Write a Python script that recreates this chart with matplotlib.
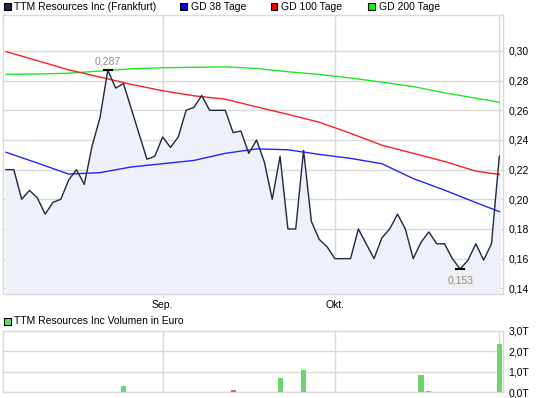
import matplotlib
matplotlib.use('Agg')
import matplotlib.pyplot as plt
from matplotlib.patches import Rectangle
import numpy as np

plt.rcParams['font.family'] = ['Liberation Sans', 'DejaVu Sans']
plt.rcParams['font.size'] = 7.5

# daily closing prices (trading days, Aug - Oct)
price = [0.220, 0.220, 0.200, 0.206, 0.201, 0.190, 0.198, 0.200, 0.213, 0.220,
         0.210, 0.236, 0.255, 0.287, 0.275, 0.278, 0.261, 0.244, 0.227, 0.229,
         0.242, 0.235, 0.242, 0.260, 0.262, 0.270, 0.260, 0.260, 0.260, 0.245,
         0.246, 0.231, 0.240, 0.225, 0.200, 0.229, 0.180, 0.180, 0.233, 0.185,
         0.173, 0.168, 0.160, 0.160, 0.160, 0.180, 0.170, 0.160, 0.174, 0.180,
         0.190, 0.180, 0.160, 0.171, 0.178, 0.170, 0.170, 0.160, 0.153, 0.159,
         0.170, 0.159, 0.170, 0.229]

# moving averages sampled at these day indices
ma_idx = [0, 4, 8, 12, 16, 20, 24, 28, 32, 36, 40, 44, 48, 52, 56, 60, 63]
gd38 = [0.2317, 0.2245, 0.2170, 0.2180, 0.2218, 0.2240, 0.2262, 0.2310, 0.2340,
        0.2334, 0.2303, 0.2276, 0.2240, 0.2140, 0.2062, 0.1978, 0.1917]
gd100 = [0.2996, 0.2935, 0.2873, 0.2824, 0.2775, 0.2732, 0.2698, 0.2675, 0.2623,
         0.2573, 0.2520, 0.2445, 0.2365, 0.2310, 0.2255, 0.2190, 0.2167]
gd200 = [0.2843, 0.2845, 0.2850, 0.2865, 0.2880, 0.2887, 0.2890, 0.2893, 0.2882,
         0.2860, 0.2842, 0.2818, 0.2790, 0.2760, 0.2718, 0.2682, 0.2655]

# volume in thousand euro
vol_idx = [15, 29, 35, 38, 53, 54, 63]
vol = [0.32, 0.10, 0.71, 1.07, 0.86, 0.05, 2.34]
vol_up = [True, False, True, True, True, True, True]

month_pos = [20, 42]
month_labels = ['Sep.', 'Okt.']
price_ticks = [0.14, 0.16, 0.18, 0.20, 0.22, 0.24, 0.26, 0.28, 0.30]
vol_ticks = [0.0, 1.0, 2.0, 3.0]

W, H = 545, 398
grid_c = '#d9d9d9'
navy = '#1f2942'


def rect(l, t, r, b):
    return [l / W, 1 - b / H, (r - l) / W, (b - t) / H]


def style_axes(ax):
    for s in ax.spines.values():
        s.set_color(grid_c)
        s.set_linewidth(1)
    ax.set_xlim(-0.383, 63.47)
    ax.yaxis.tick_right()
    ax.tick_params(axis='y', length=0, pad=4, labelsize=7.5)
    ax.tick_params(axis='x', length=2, color=grid_c, pad=3, labelsize=7.5)
    ax.set_xticks(month_pos)
    ax.grid(True, color=grid_c, linewidth=1)
    ax.axvline(len(price) - 1, color=grid_c, linewidth=1, zorder=0.5)
    ax.set_axisbelow(True)


fig = plt.figure(figsize=(W / 100, H / 100), dpi=100)

ax = fig.add_axes(rect(3, 14.5, 503, 293.5))
style_axes(ax)
x = np.arange(len(price))
ymin, ymax = 0.1365, 0.3246
ax.set_ylim(ymin, ymax)
ax.fill_between(x, price, ymin, color='#eef1f9', zorder=1)
ax.plot(ma_idx, gd200, color='#22e822', lw=1, zorder=2)
ax.plot(ma_idx, gd100, color='#ff2020', lw=1, zorder=2)
ax.plot(ma_idx, gd38, color='#2424ff', lw=1, zorder=2)
ax.plot(x, price, color=navy, lw=1.0, zorder=3)
ax.set_yticks(price_ticks)
ax.set_yticklabels([f'{v:.2f}'.replace('.', ',') for v in price_ticks])
ax.set_xticklabels(month_labels)

# high / low markers
hi = int(np.argmax(price))
lo = int(np.argmin(price))
ax.plot([hi - 0.5, hi + 0.5], [price[hi]] * 2, color='black', lw=1.5, zorder=4)
ax.plot([lo - 0.5, lo + 0.5], [price[lo]] * 2, color='black', lw=1.5, zorder=4)
ax.annotate(f'{price[hi]:.3f}'.replace('.', ','), (hi, price[hi]), xytext=(0, 3),
            textcoords='offset points', ha='center', va='bottom', color='#8c8c8c')
ax.annotate(f'{price[lo]:.3f}'.replace('.', ','), (lo, price[lo]), xytext=(0, -5),
            textcoords='offset points', ha='center', va='top', color='#8c8c8c',
            bbox=dict(boxstyle='square,pad=0.15', fc='#efefef', ec='none'))

# volume panel
axv = fig.add_axes(rect(3, 330.8, 503, 392.3))
style_axes(axv)
axv.set_ylim(0, 3)
axv.bar(vol_idx, vol, width=0.65,
        color=['#6cd66c' if u else '#e06464' for u in vol_up], zorder=3)
axv.set_yticks(vol_ticks)
axv.set_yticklabels([f'{v:.1f}T'.replace('.', ',') for v in vol_ticks])
axv.set_xticklabels([])
axv.tick_params(axis='x', length=0)

# legends
legend = [(3.5, navy, 'TTM Resources Inc (Frankfurt)'),
          (180, '#0000ff', 'GD 38 Tage'),
          (270.5, '#ff0000', 'GD 100 Tage'),
          (368, '#00ff00', 'GD 200 Tage')]
for lx, c, txt in legend:
    fig.add_artist(Rectangle((lx / W, 1 - 10 / H), 7 / W, 7 / H, fc=c, ec='black',
                             lw=0.8, transform=fig.transFigure))
    fig.text((lx + 11) / W, 1 - 6.5 / H, txt, va='center', ha='left')

fig.add_artist(Rectangle((3.5 / W, 1 - 325 / H), 7 / W, 7 / H, fc='#6cd66c', ec='black',
                         lw=0.8, transform=fig.transFigure))
fig.text(14.5 / W, 1 - 321.5 / H, 'TTM Resources Inc Volumen in Euro', va='center', ha='left')

fig.savefig('out.png', dpi=100)
